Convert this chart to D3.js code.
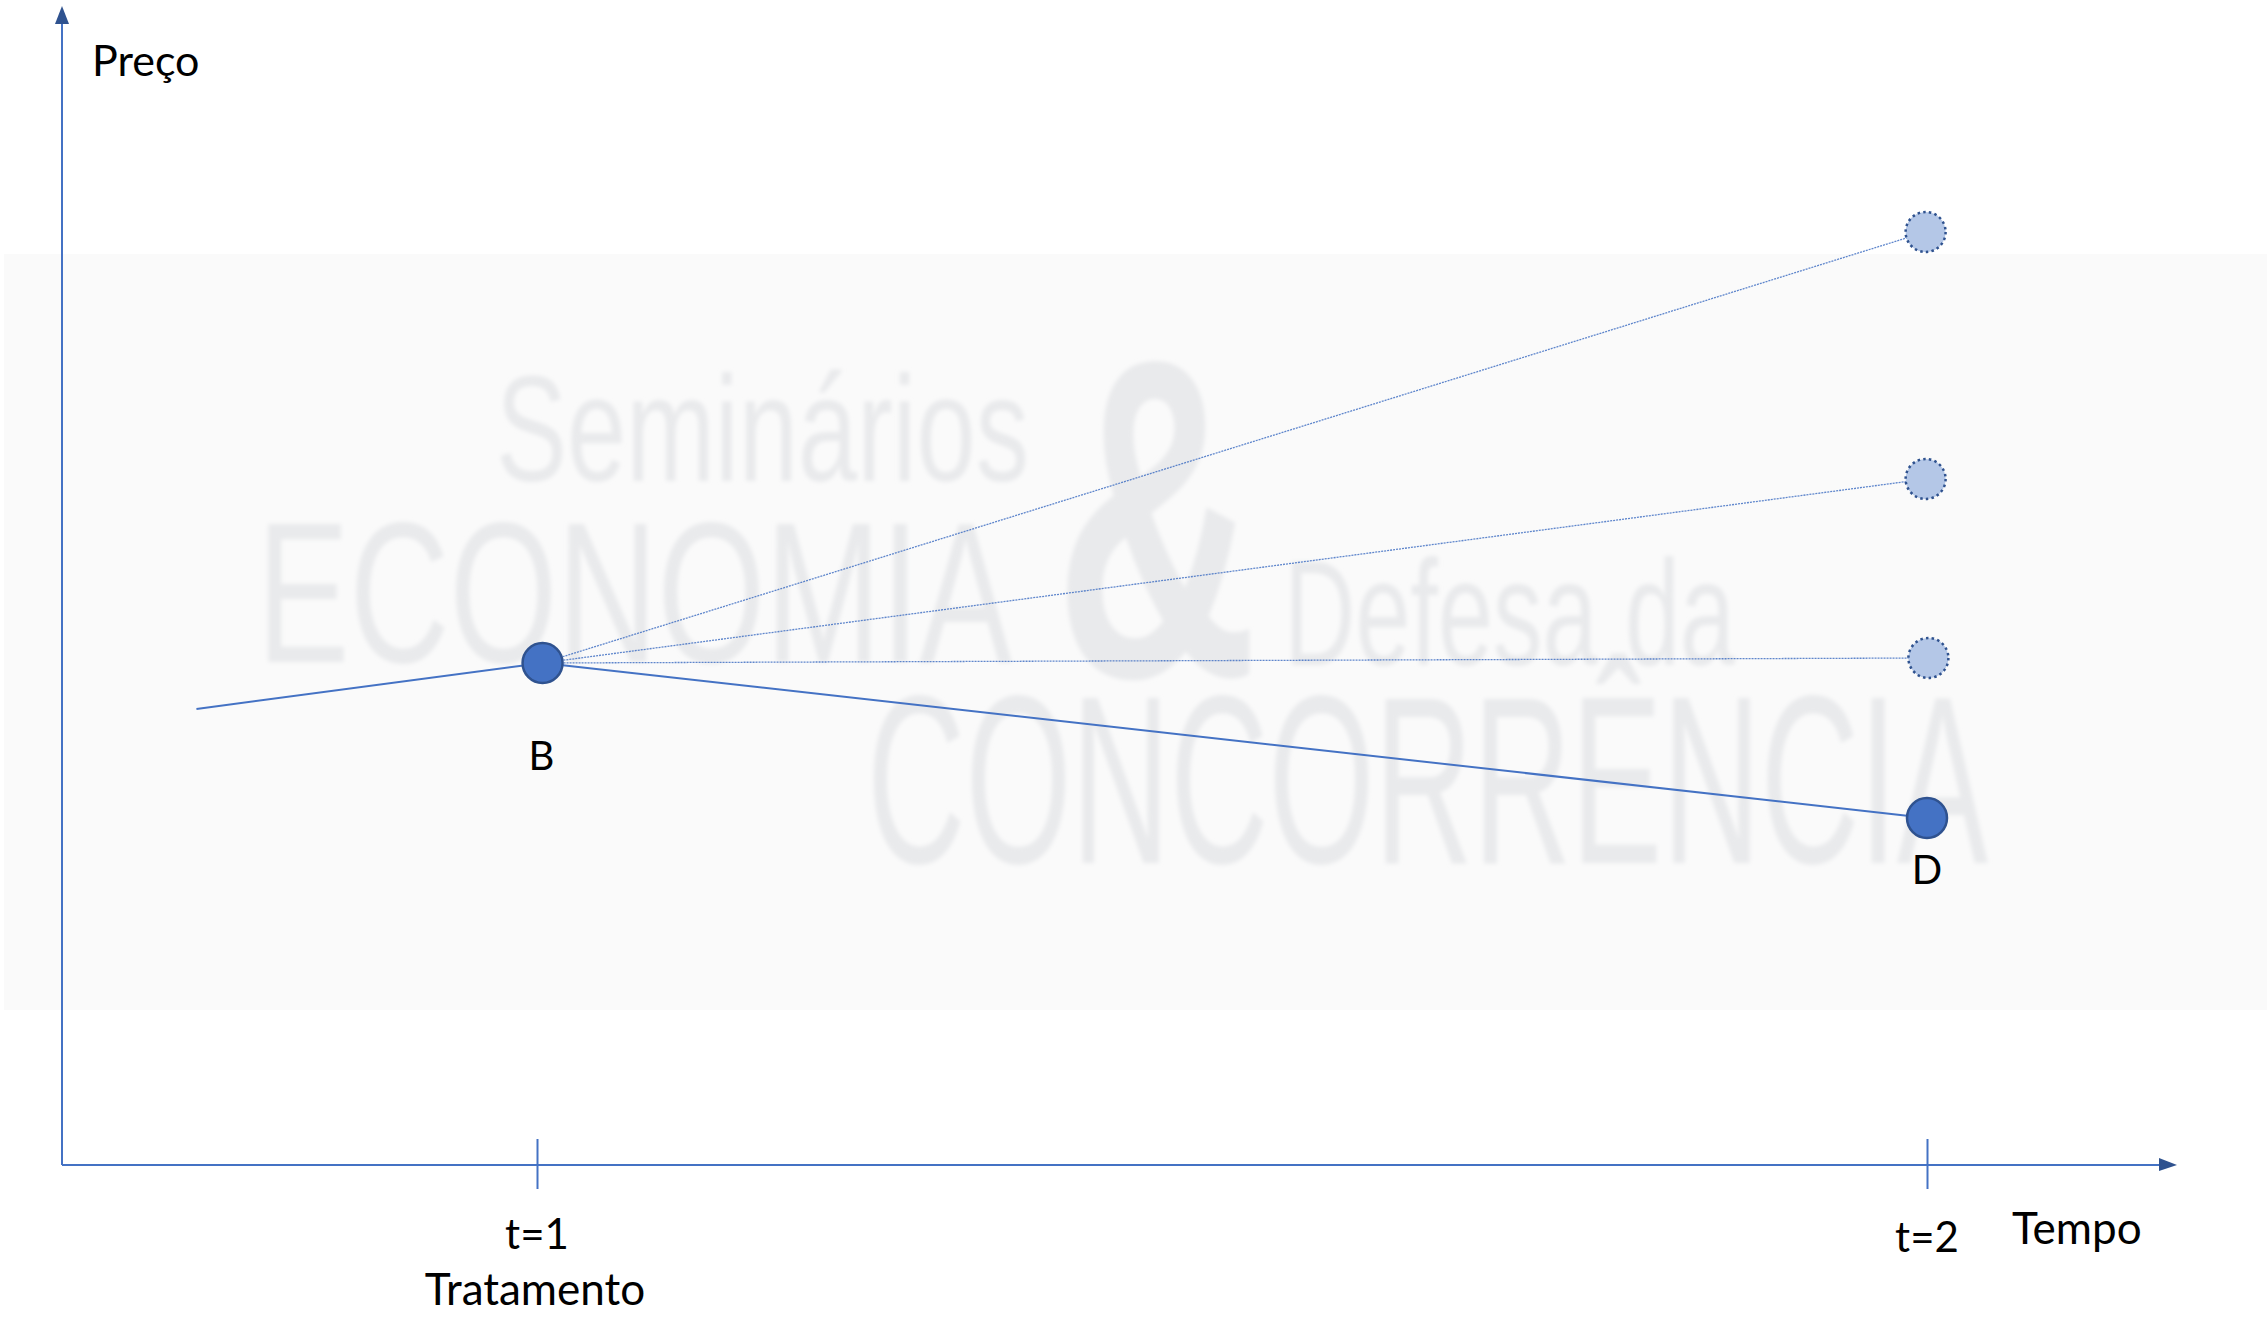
<!DOCTYPE html>
<html>
<head>
<meta charset="utf-8">
<script src="https://cdn.jsdelivr.net/npm/d3@7"></script>
<style>
  body { margin: 0; background: #fff; }
  svg { display: block; }
</style>
</head>
<body>
<div id="chart"></div>
<script>
// price path before treatment (t, price)
const pathTimes = [0.755, 1.004];
const pathPrices = [45.6, 50.2];

// possible outcomes at t=2
const scenarioTimes = [2.0, 1.999, 1.999, 2.001];
const scenarioPrices = [34.7, 93.3, 68.6, 50.7];
const scenarioObserved = [true, false, false, false];
const scenarioLabels = ['D', '', '', ''];

const tickValues = [1, 2];
const tickLabels = ['t=1', 't=2'];

const width = 2267;
const height = 1317;
const blue = '#4472c4';
const darkBlue = '#2f528f';
const font = 'Lato, "Open Sans", sans-serif';

const svg = d3.select('#chart')
    .append('svg')
        .attr('width', width)
        .attr('height', height);

// x axis at y=1165, y axis at x=62
const x = d3.scaleLinear()
    .domain([1, 2])
    .range([537, 1927]);
const y = d3.scaleLinear()
    .domain([0, 116])
    .range([1165, 5]);

const originX = 62;
const originY = y(0);

// watermark panel
const wm = svg.append('g');
wm.append('rect')
    .attr('x', 4)
    .attr('y', 254)
    .attr('width', width - 4)
    .attr('height', 756)
    .attr('fill', '#fafafa');

const defs = svg.append('defs');
defs.append('filter')
    .attr('id', 'soft')
    .append('feGaussianBlur')
        .attr('stdDeviation', 2);

const wmWords = [
    {t: 'Seminários', x: 496, y: 481, s: 150, w: 533, b: false},
    {t: 'ECONOMIA', x: 257, y: 662, s: 201, w: 755, b: false},
    {t: '&', x: 1055, y: 676, s: 455, w: 203, b: true},
    {t: 'Defesa da', x: 1284, y: 665, s: 150, w: 451, b: false},
    {t: 'CONCORRÊNCIA', x: 867, y: 863, s: 240, w: 1121, b: false}
];
wm.append('g')
    .attr('filter', 'url(#soft)')
    .selectAll('text')
    .data(wmWords)
    .join('text')
        .attr('x', d => d.x)
        .attr('y', d => d.y)
        .attr('textLength', d => d.w)
        .attr('lengthAdjust', 'spacingAndGlyphs')
        .style('font-family', d => d.b ? '"Liberation Sans", Arial, sans-serif' : '"Liberation Sans Narrow", "Liberation Sans", Arial, sans-serif')
        .style('font-weight', d => d.b ? 'bold' : 'normal')
        .style('font-size', d => d.s + 'px')
        .attr('fill', '#e9eaec')
        .text(d => d.t);

// axes
svg.append('line')
    .attr('x1', originX).attr('y1', originY)
    .attr('x2', originX).attr('y2', 22)
    .attr('stroke', blue).attr('stroke-width', 2);
svg.append('path')
    .attr('d', `M${originX - 7},24 L${originX},6 L${originX + 7},24 Z`)
    .attr('fill', darkBlue);

svg.append('line')
    .attr('x1', originX).attr('y1', originY)
    .attr('x2', 2160).attr('y2', originY)
    .attr('stroke', blue).attr('stroke-width', 2);
svg.append('path')
    .attr('d', `M2159,${originY - 7} L2177,${originY} L2159,${originY + 6} Z`)
    .attr('fill', darkBlue);

const xAxis = d3.axisBottom(x)
    .tickValues(tickValues)
    .tickSize(50)
    .tickFormat('');
const axisG = svg.append('g')
    .attr('transform', `translate(0,${originY - 26})`)
    .call(xAxis);
axisG.select('.domain').remove();
axisG.selectAll('.tick line')
    .attr('stroke', blue)
    .attr('stroke-width', 2);

svg.selectAll('.tick-label')
    .data(tickValues)
    .join('text')
        .attr('class', 'tick-label')
        .attr('x', d => x(d))
        .attr('y', (d, i) => i === 0 ? 1249 : 1252)
        .attr('text-anchor', 'middle')
        .style('font-family', font)
        .style('font-size', '42px')
        .text((d, i) => tickLabels[i]);

svg.append('text')
    .attr('x', x(1) - 2)
    .attr('y', 1305)
    .attr('text-anchor', 'middle')
    .style('font-family', font)
    .style('font-size', '44px')
    .text('Tratamento');

svg.append('text')
    .attr('x', 2012)
    .attr('y', 1244)
    .style('font-family', font)
    .style('font-size', '44px')
    .text('Tempo');

svg.append('text')
    .attr('x', 92)
    .attr('y', 76)
    .style('font-family', font)
    .style('font-size', '43px')
    .text('Preço');

// lines
const bX = x(pathTimes[1]);
const bY = y(pathPrices[1]);

svg.append('line')
    .attr('x1', x(pathTimes[0])).attr('y1', y(pathPrices[0]))
    .attr('x2', bX).attr('y2', bY)
    .attr('stroke', blue).attr('stroke-width', 2);

const scenarios = scenarioPrices.map((p, i) => ({
    t: scenarioTimes[i], p: p, obs: scenarioObserved[i], label: scenarioLabels[i]
}));

svg.selectAll('.branch')
    .data(scenarios)
    .join('line')
        .attr('class', 'branch')
        .attr('x1', bX).attr('y1', bY)
        .attr('x2', d => x(d.t)).attr('y2', d => y(d.p))
        .attr('stroke', blue)
        .attr('stroke-width', d => d.obs ? 2 : 1.3)
        .attr('stroke-dasharray', d => d.obs ? null : '2,1')
        .attr('opacity', d => d.obs ? 1 : 0.85);

svg.selectAll('.outcome')
    .data(scenarios)
    .join('circle')
        .attr('class', 'outcome')
        .attr('cx', d => x(d.t))
        .attr('cy', d => y(d.p))
        .attr('r', 20)
        .attr('fill', d => d.obs ? blue : '#b4c7e7')
        .attr('stroke', darkBlue)
        .attr('stroke-width', 2.5)
        .attr('stroke-dasharray', d => d.obs ? null : '2.5,3.2');

svg.append('circle')
    .attr('cx', bX)
    .attr('cy', bY)
    .attr('r', 20)
    .attr('fill', blue)
    .attr('stroke', darkBlue)
    .attr('stroke-width', 2.5);

svg.append('text')
    .attr('x', bX - 1)
    .attr('y', 770)
    .attr('text-anchor', 'middle')
    .style('font-family', font)
    .style('font-size', '40px')
    .text('B');

svg.selectAll('.outcome-label')
    .data(scenarios.filter(d => d.label))
    .join('text')
        .attr('class', 'outcome-label')
        .attr('x', d => x(d.t))
        .attr('y', 884)
        .attr('text-anchor', 'middle')
        .style('font-family', font)
        .style('font-size', '40px')
        .text(d => d.label);
</script>
</body>
</html>
